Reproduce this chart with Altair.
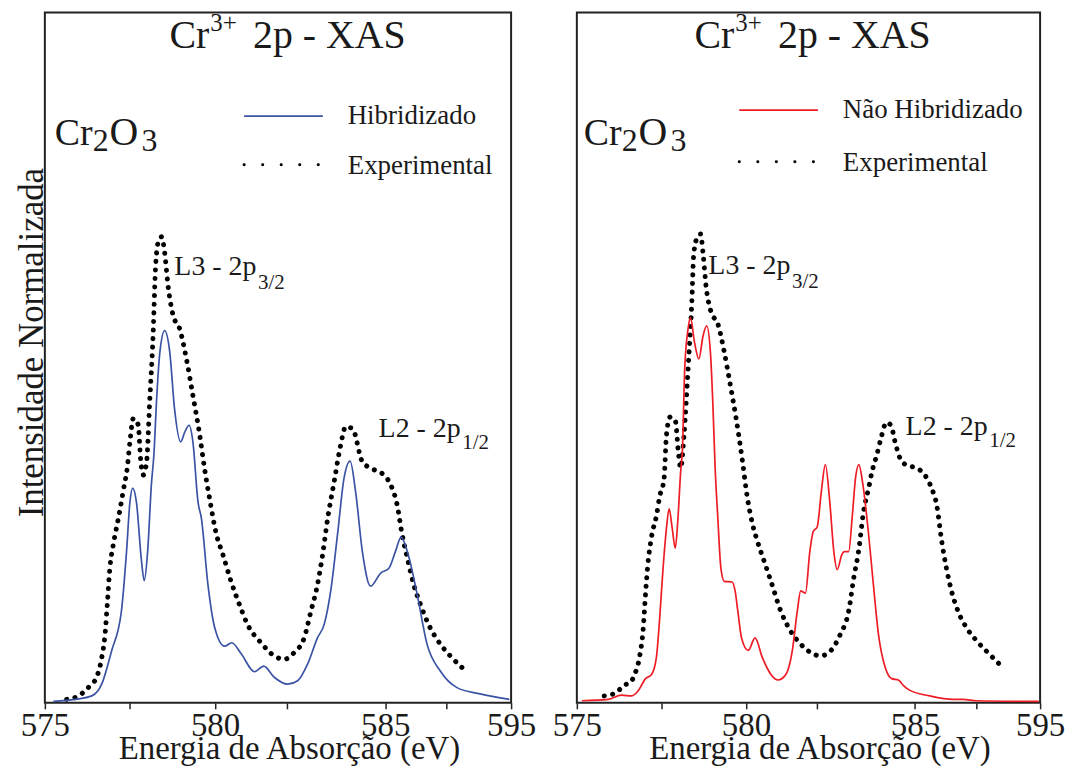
import altair as alt
import pandas as pd

# ---------------- data ----------------
left_hyb_E = [575.25, 575.89, 576.38, 576.67, 576.96, 577.25, 577.40, 577.50, 577.58, 577.69, 577.84, 577.92,
              578.02, 578.13, 578.21, 578.28, 578.38, 578.52, 578.67, 578.81, 578.99, 579.11, 579.24, 579.35,
              579.50, 579.60, 579.79, 579.99, 580.28, 580.49, 580.77, 581.16, 581.43, 581.74, 582.13, 582.43,
              582.72, 583.01, 583.21, 583.40, 583.60, 583.79, 583.97, 584.13, 584.33, 584.57, 584.87, 585.11,
              585.30, 585.47, 585.65, 585.94, 586.23, 586.62, 587.11, 587.79, 588.65]
left_hyb_I = [0.2, 0.5, 1.0, 2.7, 7.5, 13.3, 21.9, 29.1, 31.1, 29.1, 20.5, 17.7,
              21.9, 31.6, 36.4, 43.6, 50.8, 53.9, 50.8, 42.6, 37.8, 39.2, 40.2, 37.8,
              29.1, 26.7, 17.2, 10.9, 8.2, 8.7, 7.1, 4.5, 5.3, 3.7, 2.7, 3.2,
              5.6, 9.4, 11.4, 16.2, 24.4, 32.5, 35.0, 30.6, 21.9, 16.9, 18.8, 19.5,
              21.9, 24.0, 21.9, 15.7, 8.5, 4.6, 2.2, 1.3, 0.5]

left_exp_E = [575.64, 575.99, 576.33, 576.52, 576.67, 576.77, 576.84, 576.91, 577.01, 577.16, 577.30, 577.43,
              577.50, 577.60, 577.74, 577.82, 577.89, 577.99, 578.08, 578.18, 578.25, 578.33, 578.43, 578.52,
              578.62, 578.77, 578.96, 579.16, 579.35, 579.55, 579.69, 579.84, 580.04, 580.23, 580.47, 580.72,
              580.96, 581.35, 581.74, 582.03, 582.33, 582.62, 582.82, 583.01, 583.16, 583.31, 583.50, 583.69,
              583.84, 584.04, 584.33, 584.57, 584.96, 585.16, 585.35, 585.50, 585.65, 585.84, 586.04, 586.28,
              586.62, 586.91, 587.26]
left_exp_I = [0.5, 1.0, 2.5, 3.7, 6.5, 10.0, 14.7, 19.5, 22.9, 26.7, 30.6, 34.4,
              37.8, 41.2, 40.3, 34.9, 33.0, 34.9, 43.6, 53.2, 62.8, 66.7, 67.5, 65.2,
              60.4, 56.1, 54.2, 49.8, 44.5, 38.8, 34.0, 29.6, 24.4, 21.5, 17.6, 14.2,
              11.3, 8.7, 6.8, 6.3, 7.3, 9.4, 13.3, 17.1, 21.4, 26.7, 32.0, 37.3,
              40.0, 39.7, 34.9, 34.0, 33.0, 31.6, 28.7, 24.3, 21.0, 17.1, 14.2, 11.3,
              8.5, 6.8, 5.1]

right_nh_E = [575.15, 575.93, 576.32, 576.62, 576.81, 577.03, 577.21, 577.35, 577.45, 577.55, 577.65, 577.73,
              577.82, 577.91, 577.99, 578.07, 578.12, 578.19, 578.29, 578.36, 578.48, 578.61, 578.73, 578.84,
              578.95, 579.02, 579.09, 579.17, 579.26, 579.36, 579.59, 579.68, 579.76, 579.87, 580.07, 580.27,
              580.49, 580.74, 580.95, 581.18, 581.37, 581.52, 581.62, 581.76, 581.89, 581.99, 582.11, 582.23,
              582.35, 582.48, 582.60, 582.70, 582.84, 582.91, 583.04, 583.14, 583.24, 583.34, 583.46, 583.63,
              583.77, 583.92, 584.12, 584.31, 584.51, 584.66, 584.85, 585.44, 586.13, 586.42, 586.82, 588.66]
right_nh_I = [0.3, 0.5, 1.1, 1.0, 1.7, 3.5, 4.1, 6.5, 12.3, 19.5, 25.3, 28.1,
              25.3, 22.4, 26.7, 33.5, 36.4, 48.4, 54.2, 55.8, 52.2, 49.8, 53.1, 54.6,
              50.8, 43.6, 34.0, 26.7, 19.5, 17.6, 17.5, 16.2, 13.3, 9.4, 7.6, 9.4,
              6.5, 4.1, 3.3, 4.1, 7.5, 13.3, 16.2, 15.9, 21.9, 24.8, 25.5, 30.6,
              34.5, 29.1, 21.9, 19.3, 21.5, 21.9, 21.9, 26.7, 32.5, 34.5, 31.6, 24.3,
              17.1, 9.9, 5.1, 3.5, 3.3, 2.5, 1.8, 1.0, 0.5, 0.5, 0.3, 0.2]

right_exp_E = [575.81, 576.18, 576.37, 576.57, 576.71, 576.86, 576.96, 577.03, 577.09, 577.21, 577.35, 577.45,
               577.58, 577.65, 577.76, 577.91, 578.01, 578.07, 578.17, 578.29, 578.40, 578.46, 578.58, 578.66,
               578.73, 578.82, 578.97, 579.17, 579.36, 579.54, 579.71, 579.90, 580.03, 580.20, 580.34, 580.54,
               580.74, 581.03, 581.32, 581.62, 581.91, 582.21, 582.50, 582.79, 583.04, 583.19, 583.33, 583.48,
               583.63, 583.73, 583.87, 584.02, 584.15, 584.29, 584.41, 584.56, 584.76, 585.05, 585.29, 585.49,
               585.64, 585.79, 585.93, 586.08, 586.27, 586.52, 586.82, 587.11, 587.50]
right_exp_I = [1.0, 1.5, 2.5, 2.9, 4.1, 6.8, 10.6, 15.7, 19.5, 24.1, 27.0, 29.9,
               32.5, 38.8, 41.4, 40.9, 35.9, 34.0, 38.8, 48.4, 58.0, 65.2, 67.6, 67.9,
               65.2, 60.4, 56.6, 54.9, 50.8, 46.0, 41.2, 34.9, 30.1, 25.8, 23.4, 20.5,
               17.6, 13.3, 10.4, 8.5, 7.3, 6.8, 7.5, 9.9, 13.3, 18.1, 21.9, 27.7,
               31.1, 33.5, 35.9, 38.8, 40.6, 40.2, 37.8, 35.4, 34.4, 34.0, 33.0, 31.1,
               28.7, 23.4, 19.5, 16.2, 13.3, 10.9, 9.0, 7.5, 5.6]

tick_values = [575, 577.5, 580, 582.1, 585, 586.8, 588.7]
tick_labels = ["575", "", "580", "", "585", "", "595"]

# ---------------- styling ----------------
FONT = "Liberation Serif"
TXT = "#1a1a1a"
BLUE = "#3a53a4"
RED = "#ee1c25"
H = 693

label_expr = " : ".join(
    f"abs(datum.value - {v}) < 0.05 ? '{l}'" for v, l in zip(tick_values, tick_labels)
) + " : ''"


def x_enc(width):
    return alt.X(
        "E:Q",
        scale=alt.Scale(domain=[575, 588.7], nice=False, zero=False),
        axis=alt.Axis(
            values=tick_values, labelExpr=label_expr, labelFlush=False, labelOverlap=False,
            grid=False, domain=False, tickSize=6, tickWidth=1.5, tickColor="#222",
            labelFont=FONT, labelFontSize=33, labelColor=TXT, labelPadding=1,
            title="Energia de Absorção (eV)", titleFont=FONT, titleFontSize=33,
            titleFontWeight="normal", titleColor=TXT, titlePadding=-10,
            titleX=width / 2 + 11,
        ),
    )


def y_enc(show_title):
    if show_title:
        axis = alt.Axis(
            title="Intensidade Normalizada", labels=False, ticks=False, domain=False, grid=False,
            titleFont=FONT, titleFontSize=35, titleFontWeight="normal", titleColor=TXT,
            titleX=-13, titleY=331, titleBaseline="middle", titleAngle=270,
        )
    else:
        axis = None
    return alt.Y("I:Q", scale=alt.Scale(domain=[0, 100], nice=False, zero=True), axis=axis)


def text_mark(s, x, y, size):
    return alt.Chart(alt.Data(values=[{"a": 1}])).mark_text(
        text=s, font=FONT, fontSize=size, align="left", baseline="alphabetic", color=TXT
    ).encode(x=alt.value(x), y=alt.value(y))


def rule_mark(x1, x2, y, color, dotted=False):
    if dotted:
        m = alt.Chart(alt.Data(values=[{"a": 1}])).mark_rule(
            color="black", strokeWidth=3, strokeDash=[0.1, 18.5], strokeCap="round")
    else:
        m = alt.Chart(alt.Data(values=[{"a": 1}])).mark_rule(color=color, strokeWidth=1.7)
    return m.encode(x=alt.value(x1), x2=alt.value(x2), y=alt.value(y))


def panel(sim_E, sim_I, exp_E, exp_I, color, width, show_y, ann):
    sim_df = pd.DataFrame({"E": sim_E, "I": sim_I})
    exp_df = pd.DataFrame({"E": exp_E, "I": exp_I})
    xe = x_enc(width)
    ye = y_enc(show_y)
    exp = alt.Chart(exp_df).mark_line(
        color="black", strokeWidth=5, strokeDash=[0.1, 8.5], strokeCap="round", interpolate="monotone"
    ).encode(x=xe, y=ye)
    sim = alt.Chart(sim_df).mark_line(color=color, strokeWidth=1.7, interpolate="monotone").encode(x=xe, y=ye)

    t = ann
    layers = [
        exp, sim,
        # title
        text_mark("Cr", t["tx"], 36, 40),
        text_mark("3+", t["tx"] + 41, 19, 25),
        text_mark("2p - XAS", t["tx"] + 84, 36, 40),
        # compound
        text_mark("Cr", t["cx"], 133, 38),
        text_mark("2", t["cx"] + 38, 139, 32),
        text_mark("O", t["cx"] + 55, 133, 40),
        text_mark("3", t["cx"] + 87, 139, 32),
        # legend
        rule_mark(t["lx"], t["lx"] + 79, t["ly1"], color),
        text_mark(t["lab"], t["lx"] + 104, t["ly1"] + 8, 27),
        rule_mark(t["lx"], t["lx"] + 76, t["ly2"], "black", dotted=True),
        text_mark("Experimental", t["lx"] + 104, t["ly2"] + 9, 27),
        # peaks
        text_mark("L3 - 2p", t["l3x"], t["l3y"], 28),
        text_mark("3/2", t["l3x"] + 84, t["l3y"] + 14, 21),
        text_mark("L2 - 2p", t["l2x"], t["l2y"], 28),
        text_mark("1/2", t["l2x"] + 84, t["l2y"] + 12, 21),
    ]
    return alt.layer(*layers).properties(width=width, height=H)


left = panel(left_hyb_E, left_hyb_I, left_exp_E, left_exp_I, BLUE, 468, True,
             dict(tx=125, cx=10, lx=200, ly1=104, ly2=153, lab="Hibridizado",
                  l3x=130, l3y=264, l2x=335, l2y=426))
right = panel(right_nh_E, right_nh_I, right_exp_E, right_exp_I, RED, 465, False,
              dict(tx=118, cx=7, lx=163, ly1=98, ly2=150, lab="Não Hibridizado",
                   l3x=132, l3y=263, l2x=330, l2y=424))

chart = alt.hconcat(left, right, spacing=14).properties(
    padding={"left": 5, "top": 1, "right": 0, "bottom": 0}
).configure_view(stroke="#222", strokeWidth=2)

chart.save("out.html", embed_options={"renderer": "svg", "actions": False})
